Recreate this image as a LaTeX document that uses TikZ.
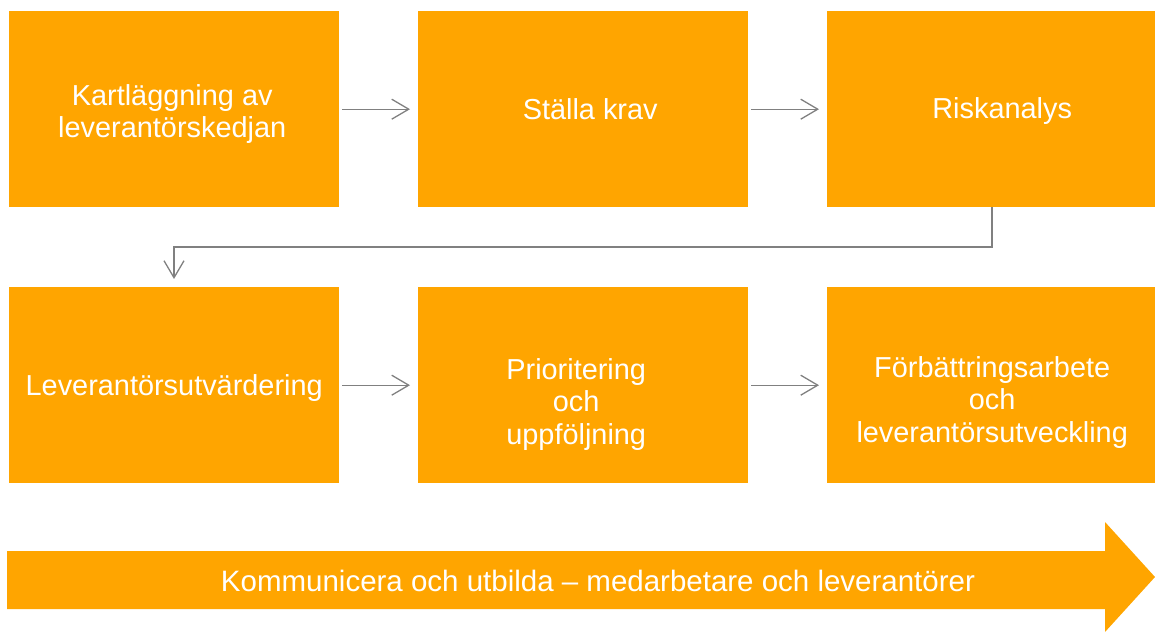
\documentclass[tikz,border=0pt]{standalone}
\usepackage{fontspec}
\setmainfont{Liberation Sans}
\usetikzlibrary{arrows.meta}
\definecolor{boxor}{RGB}{255,165,0}
\definecolor{conn}{RGB}{128,128,128}
\begin{document}
\begin{tikzpicture}[x=1bp,y=-1bp,
  stepbox/.style={fill=boxor,draw=none,minimum width=330bp,minimum height=196bp,inner sep=0pt,anchor=north west},
  lbl/.style={text=white,align=center,font=\fontsize{29}{32.5}\selectfont,inner sep=0pt},
  conn/.style={draw=conn,line width=1.3bp,-{Straight Barb[length=17bp,width=20bp,line width=1.3bp]},shorten <=3bp,shorten >=8bp}]
\useasboundingbox (0,0) rectangle (1155,632);
\node[stepbox] (b1) at (9,11) {};
\node[stepbox] (b2) at (418,11) {};
\node[stepbox] (b3) at (827,11) {};
\node[stepbox] (b4) at (9,287) {};
\node[stepbox] (b5) at (418,287) {};
\node[stepbox] (b6) at (827,287) {};
\node[lbl] (t1) at ([xshift=-2bp,yshift=-5bp]b1.center) {Kartläggning av\\leverantörskedjan};
\node[lbl] (t2) at ([xshift=7bp,yshift=0bp]b2.center) {Ställa krav};
\node[lbl] (t3) at ([xshift=10bp,yshift=-2bp]b3.center) {Riskanalys};
\node[lbl] (t4) at ([yshift=-3bp]b4.center) {Leverantörsutvärdering};
\node[lbl] (t5) at ([xshift=-7bp,yshift=-19bp]b5.center) {Prioritering\\och\\uppföljning};
\node[lbl] (t6) at ([yshift=-17bp]b6.center) {Förbättringsarbete\\och\\leverantörsutveckling};
\draw[conn] (b1.east) -- (b2.west);
\draw[conn] (b2.east) -- (b3.west);
\draw[conn] (b4.east) -- (b5.west);
\draw[conn] (b5.east) -- (b6.west);
\coordinate (e1) at (992,247);
\coordinate (e2) at (174,247);
\draw[conn,shorten <=0bp] (b3.south -| e1) -- (e1) -- (e2) -- (b4.north -| e2);
\fill[boxor] (7,551) -- (1105,551) -- (1105,522) -- (1155,577) -- (1105,632) -- (1105,609) -- (7,609) -- cycle;
\node[lbl,font=\fontsize{29.6}{33}\selectfont] (t7) at (598,581) {Kommunicera och utbilda – medarbetare och leverantörer};
\end{tikzpicture}
\end{document}
